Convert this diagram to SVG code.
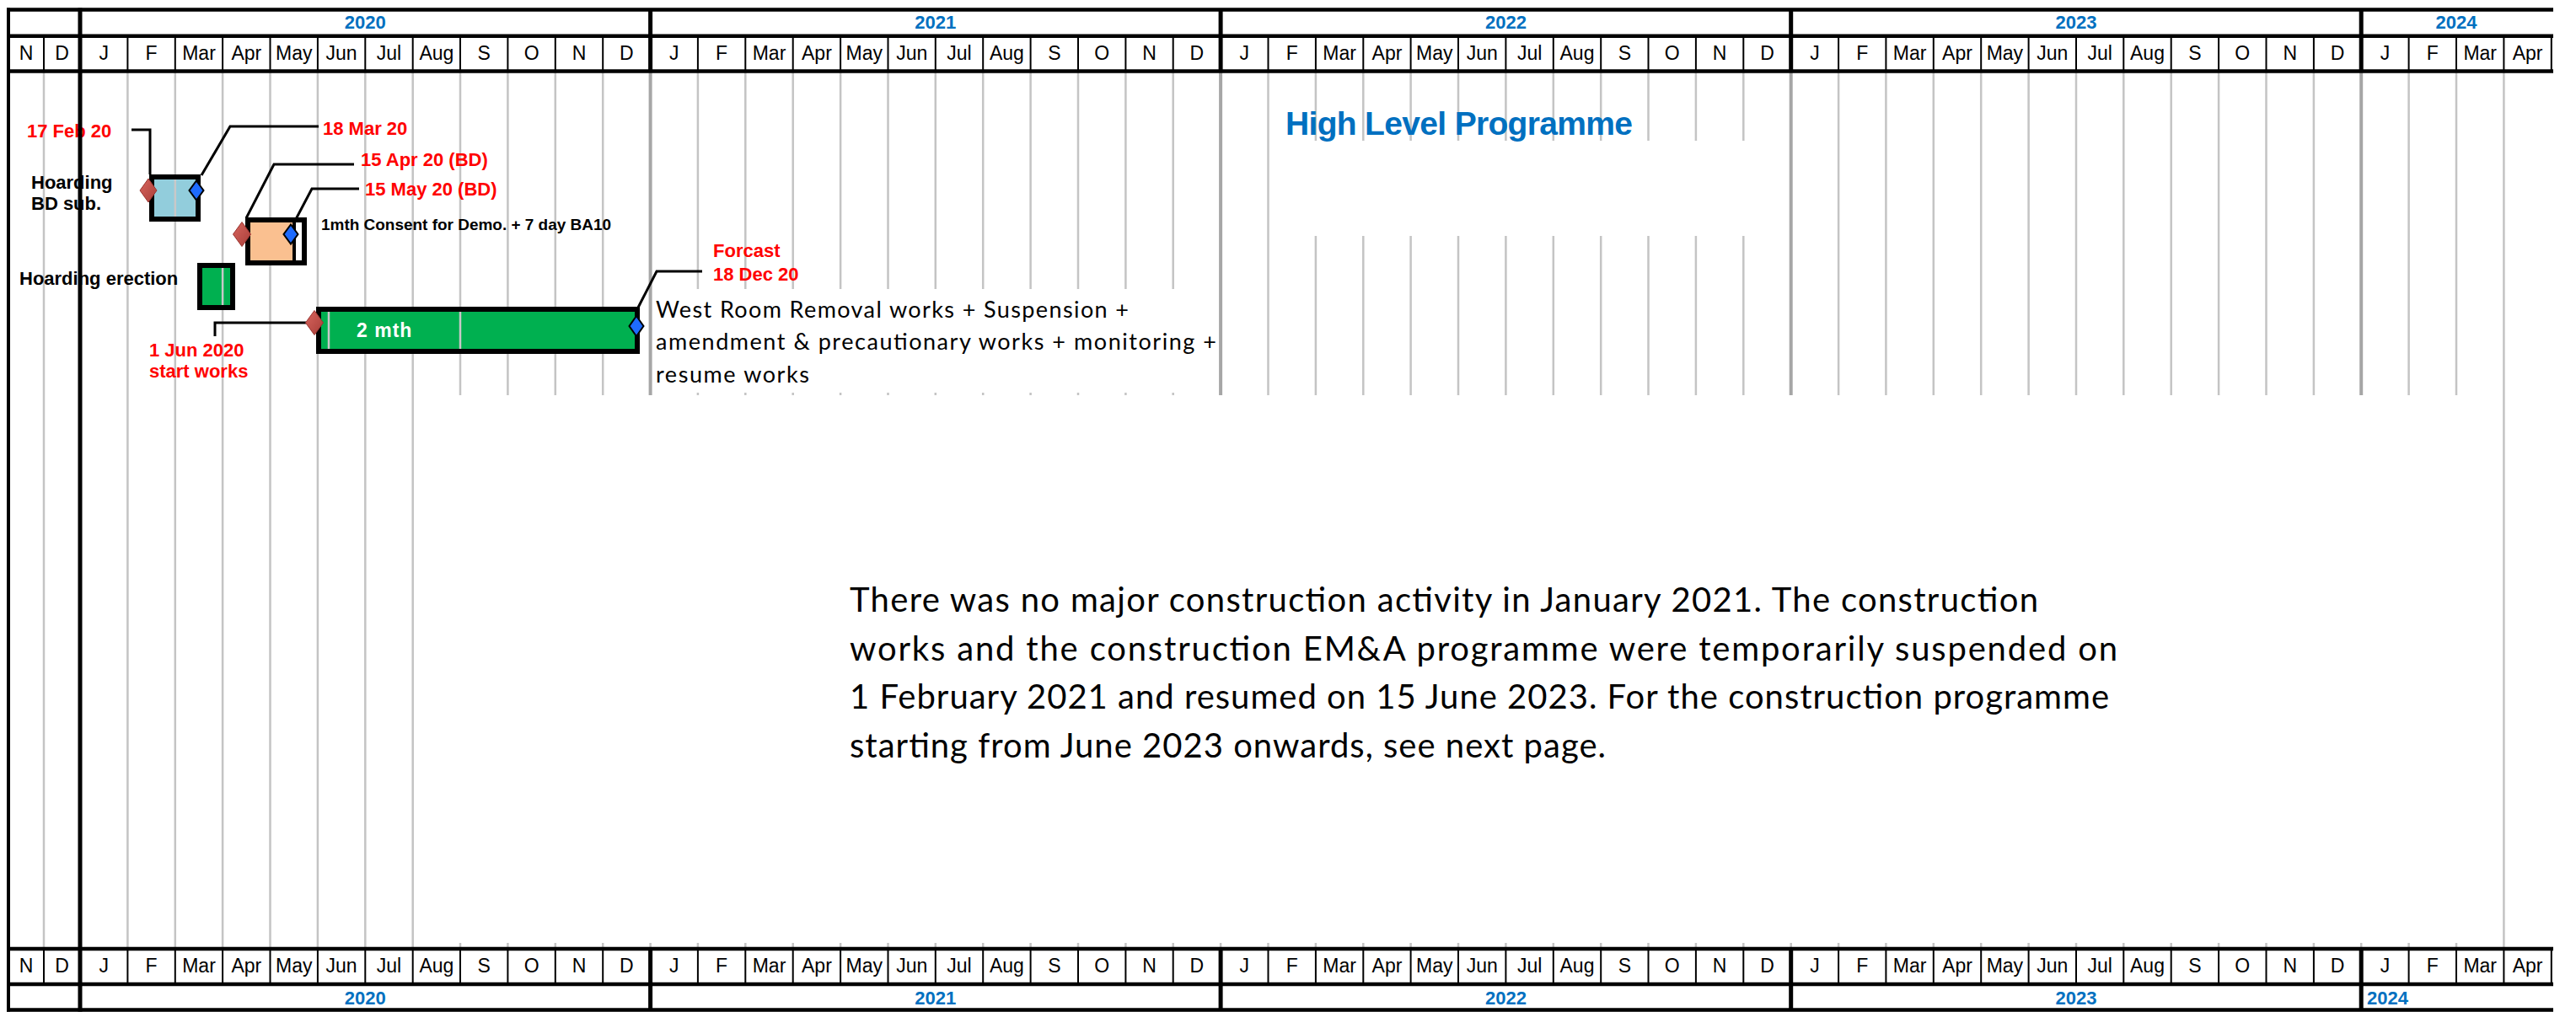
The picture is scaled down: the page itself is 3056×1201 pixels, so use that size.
<svg xmlns="http://www.w3.org/2000/svg" xmlns:xlink="http://www.w3.org/1999/xlink" width="3056" height="1201" viewBox="0 0 3056 1201">
<style>
.hl{stroke:#000;stroke-width:4.5;fill:none}
.yl{stroke:#000;stroke-width:5;fill:none}
.md{stroke:#000;stroke-width:2;fill:none}
.gr{stroke:#C4C4C4;stroke-width:2.5;fill:none}
.gy{stroke:#A6A6A6;stroke-width:4;fill:none}
.ov{stroke:#C8C8C8;stroke-width:2.5;fill:none}
.ml{font-family:"Liberation Sans Narrow","Arial Narrow","Liberation Sans",sans-serif;font-size:23px;fill:#000;text-anchor:middle}
.yt{font-family:"Liberation Sans",Arial,sans-serif;font-size:22px;font-weight:bold;fill:#0070C0}
.rd{font-family:"Liberation Sans",Arial,sans-serif;font-size:22px;font-weight:bold;fill:#FF0000}
.bk{font-family:"Liberation Sans",Arial,sans-serif;font-size:22px;font-weight:bold;fill:#000}
.sm{font-family:"Liberation Sans",Arial,sans-serif;font-size:19px;font-weight:bold;fill:#000}
.wt{font-family:"Liberation Sans",Arial,sans-serif;font-size:23px;font-weight:bold;fill:#fff;letter-spacing:1px}
.ld{stroke:#000;stroke-width:3;fill:none;stroke-linejoin:miter}
.box{stroke:#000;stroke-width:6}
.wr{font-family:Lato,"Open Sans",sans-serif;font-size:27px;fill:#000}
.pg{font-family:Lato,"Open Sans",sans-serif;font-size:40px;fill:#000}
.dr{fill:url(#rg);stroke:#9A3430;stroke-width:1}
.db{fill:#1E6BFF;stroke:#000;stroke-width:2}
</style>
<defs>
<linearGradient id="rg" x1="0" y1="0" x2="1" y2="1">
<stop offset="0" stop-color="#D8655E"/>
<stop offset="1" stop-color="#A83E39"/>
</linearGradient>
<path id="mdivs" d="M52 0V42M151.4 0V42M207.8 0V42M264.1 0V42M320.5 0V42M376.9 0V42M433.3 0V42M489.7 0V42M546 0V42M602.4 0V42M658.8 0V42M715.2 0V42M827.9 0V42M884.3 0V42M940.7 0V42M997.1 0V42M1053.5 0V42M1109.8 0V42M1166.2 0V42M1222.6 0V42M1279 0V42M1335.4 0V42M1391.7 0V42M1504.5 0V42M1560.9 0V42M1617.3 0V42M1673.6 0V42M1730 0V42M1786.4 0V42M1842.8 0V42M1899.2 0V42M1955.5 0V42M2011.9 0V42M2068.3 0V42M2181.1 0V42M2237.4 0V42M2293.8 0V42M2350.2 0V42M2406.6 0V42M2463 0V42M2519.3 0V42M2575.7 0V42M2632.1 0V42M2688.5 0V42M2744.9 0V42M2857.6 0V42M2914 0V42M2970.4 0V42M3026.8 0V42"/>
<g id="mlabs">
<text class="ml" x="31">N</text><text class="ml" x="73.5">D</text>
<text class="ml" x="123.2">J</text><text class="ml" x="179.6">F</text><text class="ml" x="236">Mar</text><text class="ml" x="292.3">Apr</text><text class="ml" x="348.7">May</text><text class="ml" x="405.1">Jun</text><text class="ml" x="461.5">Jul</text><text class="ml" x="517.9">Aug</text><text class="ml" x="574.2">S</text><text class="ml" x="630.6">O</text><text class="ml" x="687">N</text><text class="ml" x="743.4">D</text>
<text class="ml" x="799.8">J</text><text class="ml" x="856.1">F</text><text class="ml" x="912.5">Mar</text><text class="ml" x="968.9">Apr</text><text class="ml" x="1025.3">May</text><text class="ml" x="1081.7">Jun</text><text class="ml" x="1138">Jul</text><text class="ml" x="1194.4">Aug</text><text class="ml" x="1250.8">S</text><text class="ml" x="1307.2">O</text><text class="ml" x="1363.6">N</text><text class="ml" x="1419.9">D</text>
<text class="ml" x="1476.3">J</text><text class="ml" x="1532.7">F</text><text class="ml" x="1589.1">Mar</text><text class="ml" x="1645.5">Apr</text><text class="ml" x="1701.8">May</text><text class="ml" x="1758.2">Jun</text><text class="ml" x="1814.6">Jul</text><text class="ml" x="1871">Aug</text><text class="ml" x="1927.4">S</text><text class="ml" x="1983.7">O</text><text class="ml" x="2040.1">N</text><text class="ml" x="2096.5">D</text>
<text class="ml" x="2152.9">J</text><text class="ml" x="2209.3">F</text><text class="ml" x="2265.6">Mar</text><text class="ml" x="2322">Apr</text><text class="ml" x="2378.4">May</text><text class="ml" x="2434.8">Jun</text><text class="ml" x="2491.2">Jul</text><text class="ml" x="2547.5">Aug</text><text class="ml" x="2603.9">S</text><text class="ml" x="2660.3">O</text><text class="ml" x="2716.7">N</text><text class="ml" x="2773.1">D</text>
<text class="ml" x="2829.4">J</text><text class="ml" x="2885.8">F</text><text class="ml" x="2942.2">Mar</text><text class="ml" x="2998.6">Apr</text>
</g>
</defs>
<rect width="3056" height="1201" fill="#fff"/>

<g id="grid">
<path class="gr" d="M52 84V1126M151.4 84V1126M207.8 84V1126M264.1 84V1126M320.5 84V1126M376.9 84V1126M433.3 84V1126M489.7 84V1126M2970.4 84V1126"/>
<path class="gr" d="M546 84V469M602.4 84V469M658.8 84V469M715.2 84V469M827.9 84V469M884.3 84V469M940.7 84V469M997.1 84V469M1053.5 84V469M1109.8 84V469M1166.2 84V469M1222.6 84V469M1279 84V469M1335.4 84V469M1391.7 84V469M1504.5 84V469M2181.1 84V469M2237.4 84V469M2293.8 84V469M2350.2 84V469M2406.6 84V469M2463 84V469M2519.3 84V469M2575.7 84V469M2632.1 84V469M2688.5 84V469M2744.9 84V469M2857.6 84V469M2914 84V469"/>
<path class="gr" d="M1560.9 84V167M1617.3 84V167M1673.6 84V167M1730 84V167M1786.4 84V167M1842.8 84V167M1899.2 84V167M1955.5 84V167M2011.9 84V167M2068.3 84V167M1560.9 280V469M1617.3 280V469M1673.6 280V469M1730 280V469M1786.4 280V469M1842.8 280V469M1899.2 280V469M1955.5 280V469M2011.9 280V469M2068.3 280V469"/>
<path class="gy" d="M771.6 84V469M1448.1 84V469M2124.7 84V469M2801.2 84V469"/>
<path class="gr" d="M546 1119V1125M602.4 1119V1125M658.8 1119V1125M715.2 1119V1125M771.6 1119V1125M827.9 1119V1125M884.3 1119V1125M940.7 1119V1125M997.1 1119V1125M1053.5 1119V1125M1109.8 1119V1125M1166.2 1119V1125M1222.6 1119V1125M1279 1119V1125M1335.4 1119V1125M1391.7 1119V1125M1448.1 1119V1125M1504.5 1119V1125M1560.9 1119V1125M1617.3 1119V1125M1673.6 1119V1125M1730 1119V1125M1786.4 1119V1125M1842.8 1119V1125M1899.2 1119V1125M1955.5 1119V1125M2011.9 1119V1125M2068.3 1119V1125M2124.7 1119V1125M2181.1 1119V1125M2237.4 1119V1125M2293.8 1119V1125M2350.2 1119V1125M2406.6 1119V1125M2463 1119V1125M2519.3 1119V1125M2575.7 1119V1125M2632.1 1119V1125M2688.5 1119V1125M2744.9 1119V1125M2801.2 1119V1125M2857.6 1119V1125M2914 1119V1125"/>
</g>

<g id="connectors">
<polyline class="ld" points="156,154 178,154 178,207"/>
<polyline class="ld" points="239,208 273,150 378,150"/>
<polyline class="ld" points="292,259 325,195 420,195"/>
<polyline class="ld" points="350,262 370,224 426,224"/>
<polyline class="ld" points="363,383 255,383 255,399"/>
<polyline class="ld" points="757,365 779,322 833,322"/>
</g>

<g id="task-hoarding-bd-sub">
<rect class="box" x="180" y="210" width="55" height="50" fill="#92CDDC"/>
<path class="ov" d="M207.8 213V257"/>
<polygon class="dr" points="176,212 186,226 176,240 166,226"/>
<polygon class="db" points="233,214.5 241.5,226 233,237.5 224.5,226"/>
<text class="bk" x="37" y="224">Hoarding</text>
<text class="bk" x="37" y="249">BD sub.</text>
<text class="rd" x="32" y="163">17 Feb 20</text>
<text class="rd" x="383" y="160">18 Mar 20</text>
</g>

<g id="task-consent-demo">
<rect class="box" x="294" y="261" width="67" height="51" fill="#fff" stroke-width="5.5"/>
<rect x="297" y="264" width="50" height="45" fill="#FAC090"/>
<path d="M349 262V311" stroke="#000" stroke-width="4"/>
<polygon class="dr" points="287,263.5 297.5,278 287,292.5 276.5,278"/>
<polygon class="db" points="345,266.5 353.5,278 345,289.5 336.5,278"/>
<text class="rd" x="428" y="197">15 Apr 20 (BD)</text>
<text class="rd" x="433" y="232">15 May 20 (BD)</text>
<text class="sm" x="381" y="273" textLength="344" lengthAdjust="spacingAndGlyphs">1mth Consent for Demo. + 7 day BA10</text>
</g>

<g id="task-hoarding-erection">
<rect class="box" x="237" y="315" width="39" height="50" fill="#00B050" stroke-width="5.5"/>
<path class="ov" d="M264.1 318V362"/>
<text class="bk" x="23" y="338">Hoarding erection</text>
</g>

<g id="task-west-room">
<rect x="775" y="343" width="670" height="123" fill="#fff"/>
<rect class="box" x="378" y="367" width="378" height="50" fill="#00B050"/>
<path class="ov" d="M390 370V414M546 370V414"/>
<polygon class="dr" points="373,368.5 383.5,383 373,397.5 362.5,383"/>
<polygon class="db" points="755,375 763.5,387 755,399 746.5,387"/>
<text class="wt" x="423" y="400">2 mth</text>
<text class="rd" x="177" y="423">1 Jun 2020</text>
<text class="rd" x="177" y="448">start works</text>
<text class="rd" x="846" y="305">Forcast</text>
<text class="rd" x="846" y="333">18 Dec 20</text>
<text class="wr" x="778" y="377" textLength="561">West Room Removal works + Suspension +</text>
<text class="wr" x="778" y="415" textLength="665">amendment &amp; precautionary works + monitoring +</text>
<text class="wr" x="778" y="454" textLength="182">resume works</text>
</g>

<g id="title">
<text x="1525" y="160" font-family="Liberation Sans,Arial,sans-serif" font-size="39" font-weight="bold" fill="#0070C0" textLength="412">High Level Programme</text>
</g>

<g id="note">
<text class="pg" x="1008" y="726" textLength="1410">There was no major construction activity in January 2021. The construction</text>
<text class="pg" x="1008" y="783.5" textLength="1504">works and the construction EM&amp;A programme were temporarily suspended on</text>
<text class="pg" x="1008" y="841" textLength="1494">1 February 2021 and resumed on 15 June 2023. For the construction programme</text>
<text class="pg" x="1008" y="898.5" textLength="897">starting from June 2023 onwards, see next page.</text>
</g>

<g id="header-top">
<rect x="8" y="11" width="3021" height="74" fill="#fff"/>
<use href="#mdivs" y="42.8" class="md"/>
<use href="#mlabs" y="71"/>
<text class="yt" x="433.3" y="34" text-anchor="middle">2020</text>
<text class="yt" x="1109.8" y="34" text-anchor="middle">2021</text>
<text class="yt" x="1786.4" y="34" text-anchor="middle">2022</text>
<text class="yt" x="2463" y="34" text-anchor="middle">2023</text>
<text class="yt" x="2914" y="34" text-anchor="middle">2024</text>
<path class="hl" d="M8 11.5H3029M8 42.8H3029M8 84.5H3029"/>
<path class="yl" d="M771.6 11V85M1448.1 11V85M2124.7 11V85M2801.2 11V85"/>
</g>

<g id="header-bottom">
<rect x="8" y="1126" width="3021" height="73" fill="#fff"/>
<use href="#mdivs" y="1126" class="md"/>
<use href="#mlabs" y="1154"/>
<text class="yt" x="433.3" y="1192" text-anchor="middle">2020</text>
<text class="yt" x="1109.8" y="1192" text-anchor="middle">2021</text>
<text class="yt" x="1786.4" y="1192" text-anchor="middle">2022</text>
<text class="yt" x="2463" y="1192" text-anchor="middle">2023</text>
<text class="yt" x="2808" y="1192">2024</text>
<path class="hl" d="M8 1126H3029M8 1168H3029M8 1198.5H3029"/>
<path class="yl" d="M771.6 1126V1199M1448.1 1126V1199M2124.7 1126V1199M2801.2 1126V1199"/>
</g>

<g id="frame">
<path d="M10 9.5V1200.5" stroke="#000" stroke-width="4"/>
<path d="M95 9.5V1200.5" stroke="#000" stroke-width="5"/>
</g>
</svg>
